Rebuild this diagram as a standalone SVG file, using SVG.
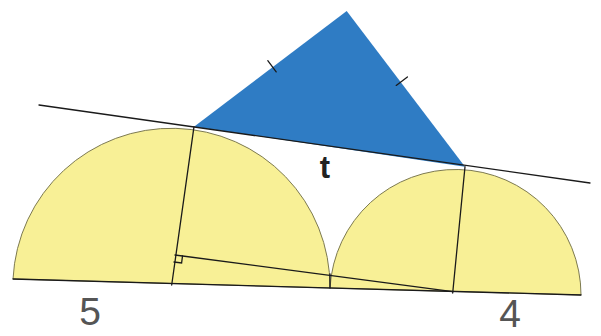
<svg xmlns="http://www.w3.org/2000/svg" width="601" height="336" viewBox="0 0 601 336">
<style>
.semi{fill:#f8f096;stroke:#7d7a50;stroke-width:1}
.ln{stroke:#1a1a1a;stroke-width:1.3;fill:none;stroke-linecap:round}
.lbl{font-family:"Liberation Sans",Arial,sans-serif;fill:#555;font-size:39px}
</style>
<rect width="601" height="336" fill="#ffffff"/>
<g id="big-semicircle">
<path class="semi" d="M13,279 A158.6,158.6 0 0 1 330,288 Z"/>
</g>
<g id="small-semicircle">
<path class="semi" d="M330,288 A125.6,125.6 0 0 1 581,295 Z"/>
</g>
<g id="triangle">
<polygon points="194,126.7 346.7,11 465,166.7" fill="#2f7cc4"/>
<line class="ln" x1="267.8" y1="60.7" x2="276.2" y2="71.9"/>
<line class="ln" x1="396.2" y1="85.4" x2="407.4" y2="77"/>
</g>
<g id="connectors">
<line class="ln" x1="39" y1="105" x2="590" y2="183"/>
<line class="ln" x1="13" y1="279" x2="581" y2="295"/>
<line class="ln" x1="194" y1="126.7" x2="171.7" y2="285"/>
<line class="ln" x1="465" y1="166.7" x2="452.7" y2="293"/>
<line class="ln" x1="175" y1="255" x2="452.7" y2="291.7"/>
<line class="ln" x1="330" y1="274" x2="330" y2="288"/>
<polyline class="ln" points="182.5,256 181.6,263 174,262" stroke-width="1.1"/>
</g>
<g id="labels">
<text x="325" y="178" font-family="Liberation Sans,Arial,sans-serif" font-size="31" font-weight="bold" fill="#222" text-anchor="middle">t</text>
<text class="lbl" x="90" y="325" text-anchor="middle">5</text>
<text class="lbl" x="510" y="327" text-anchor="middle">4</text>
</g>
</svg>
